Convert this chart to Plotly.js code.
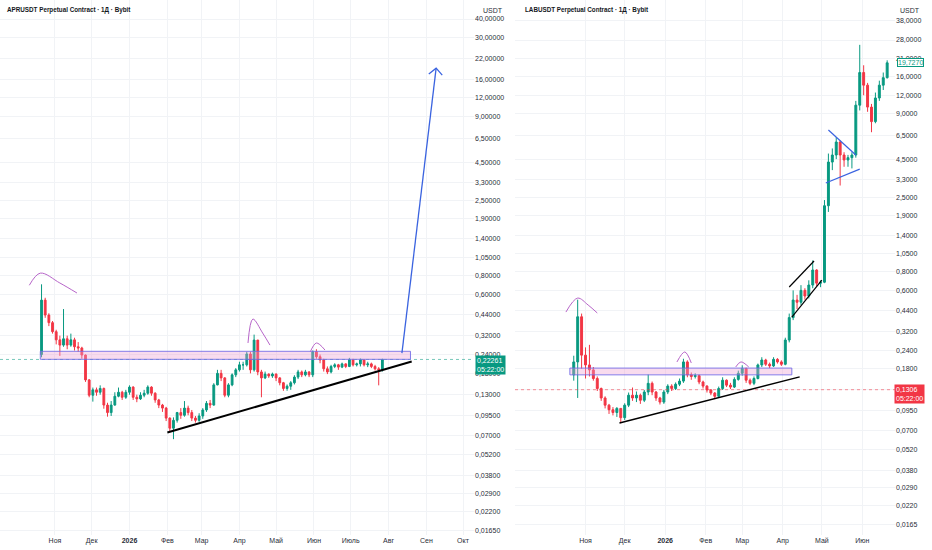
<!DOCTYPE html>
<html><head><meta charset="utf-8">
<script src="https://cdn.plot.ly/plotly-3.0.1.min.js"></script>
<style>html,body{margin:0;padding:0;background:#fff;}#chart{width:932px;height:550px;}</style>
</head><body><div id="chart"></div>
<script>
// ---------- APRUSDT (left panel), 3-day candles ----------
const aprStart = '2025-10-21';
const aprStepDays = 3;
const aprOpen0 = 0.24;
const aprClose = [0.55,0.438,0.39,0.34,0.30,0.277,0.305,0.277,0.30,0.27,0.265,0.238,0.163,0.129,0.14,0.135,0.143,0.111,0.099,0.111,
0.127,0.135,0.125,0.135,0.146,0.125,0.122,0.129,0.133,0.146,0.133,0.12,0.111,0.106,0.091,0.078,0.088,0.099,0.095,0.106,
0.099,0.091,0.088,0.094,0.103,0.114,0.111,0.151,0.18,0.168,0.129,0.151,0.176,0.19,0.205,0.205,0.242,0.19,0.299,0.184,
0.168,0.178,0.173,0.178,0.168,0.156,0.143,0.148,0.156,0.17,0.184,0.176,0.184,0.176,0.25,0.232,0.221,0.193,0.184,0.2,
0.205,0.198,0.208,0.2,0.221,0.205,0.208,0.221,0.205,0.208,0.2,0.193,0.19,0.22261];
const aprHigh = [0.70,0.57,0.45,0.40,0.35,0.32,0.48,0.32,0.33,0.31,0.29,0.27,0.24,0.165,0.145,0.145,0.15,0.145,0.115,0.118,
0.135,0.145,0.138,0.14,0.15,0.148,0.13,0.135,0.14,0.15,0.148,0.135,0.122,0.113,0.108,0.092,0.092,0.10,0.106,0.118,
0.11,0.103,0.094,0.098,0.106,0.118,0.12,0.155,0.19,0.19,0.17,0.155,0.18,0.195,0.215,0.215,0.25,0.25,0.325,0.30,
0.19,0.185,0.18,0.182,0.18,0.17,0.158,0.152,0.16,0.175,0.19,0.188,0.19,0.186,0.255,0.26,0.24,0.225,0.2,0.205,
0.21,0.208,0.212,0.21,0.228,0.225,0.212,0.226,0.222,0.215,0.212,0.205,0.198,0.225];
const aprLow = [0.23,0.42,0.37,0.33,0.28,0.235,0.27,0.26,0.27,0.255,0.25,0.225,0.158,0.125,0.117,0.128,0.13,0.105,0.093,0.094,
0.11,0.125,0.12,0.122,0.13,0.12,0.116,0.12,0.125,0.13,0.128,0.115,0.106,0.10,0.087,0.074,0.066,0.085,0.09,0.093,
0.095,0.087,0.085,0.086,0.09,0.10,0.106,0.11,0.15,0.16,0.125,0.125,0.148,0.17,0.185,0.19,0.2,0.18,0.185,0.175,
0.125,0.165,0.168,0.168,0.16,0.15,0.138,0.138,0.14,0.152,0.165,0.17,0.172,0.17,0.17,0.225,0.21,0.185,0.178,0.18,
0.195,0.19,0.195,0.195,0.198,0.2,0.2,0.2,0.2,0.198,0.195,0.188,0.15,0.185];
const aprLast = 0.22261;
const aprTickVals = [40,30,22,16,12,9,6.5,4.5,3.3,2.5,1.9,1.4,1.05,0.8,0.6,0.44,0.32,0.24,0.18,0.13,0.095,0.07,0.052,0.038,0.029,0.022,0.0165];
const aprTickText = ['40,00000','30,00000','22,00000','16,00000','12,00000','9,00000','6,50000','4,50000','3,30000','2,50000','1,90000','1,40000','1,05000','0,80000','0,60000','0,44000','0,32000','0,24000','0,18000','0,13000','0,09500','0,07000','0,05200','0,03800','0,02900','0,02200','0,01650'];
const aprMonthVals = ['2025-11-01','2025-12-01','2026-01-01','2026-02-01','2026-03-01','2026-04-01','2026-05-01','2026-06-01','2026-07-01','2026-08-01','2026-09-01','2026-10-01'];
const aprMonthText = ['Ноя','Дек','<b>2026</b>','Фев','Мар','Апр','Май','Июн','Июль','Авг','Сен','Окт'];
// drawings (left)
const aprZoneX = ['2025-10-20','2026-08-19'];
const aprZoneY = [0.223, 0.252];
const aprTrendX = ['2026-02-01','2026-08-20'];
const aprTrendY = [0.073, 0.216];
const aprArrowX = ['2026-08-12','2026-09-09'];
const aprArrowY = [0.245, 18.9];
const aprHeadX = ['2026-09-03','2026-09-09','2026-09-14'];
const aprHeadY = [17.3, 18.9, 17.0];
const aprArc1X = ['2025-10-11','2025-10-20','2025-11-05','2025-11-19'];
const aprArc1Y = [0.69, 0.83, 0.714, 0.613];
const aprArc2X = ['2026-04-08','2026-04-12','2026-04-20','2026-04-26'];
const aprArc2Y = [0.286, 0.412, 0.333, 0.277];
const aprArc3X = ['2026-05-29','2026-06-03','2026-06-10'];
const aprArc3Y = [0.25, 0.286, 0.257];

// ---------- LABUSDT (right panel), 3-day candles ----------
const labStart = '2025-10-23';
const labStepDays = 3;
const labOpen0 = 0.164;
const labClose = [0.2,0.40,0.222,0.191,0.177,0.155,0.133,0.115,0.103,0.096,0.092,0.098,0.085,0.103,0.12,0.115,0.12,0.111,0.126,0.144,
0.126,0.115,0.108,0.126,0.138,0.133,0.142,0.149,0.2,0.164,0.16,0.162,0.147,0.138,0.13,0.124,0.118,0.133,0.151,0.14,
0.136,0.153,0.168,0.181,0.151,0.144,0.155,0.191,0.206,0.193,0.188,0.208,0.2,0.193,0.28,0.395,0.517,0.5,0.6,0.55,
0.651,0.82,0.67,0.68,2.2,4.3,4.79,5.85,4.79,4.44,4.6,4.79,10.3,17,14,10,8.0,11.5,14,15.7,19.727];
const labHigh = [0.22,0.52,0.42,0.25,0.26,0.185,0.16,0.135,0.118,0.105,0.1,0.1,0.098,0.106,0.125,0.135,0.127,0.123,0.13,0.165,
0.148,0.128,0.117,0.13,0.142,0.142,0.146,0.155,0.21,0.205,0.17,0.168,0.165,0.15,0.14,0.132,0.126,0.137,0.158,0.153,
0.145,0.158,0.175,0.19,0.183,0.155,0.16,0.195,0.215,0.21,0.198,0.215,0.212,0.205,0.29,0.42,0.6,0.56,0.65,0.62,
0.7,0.95,0.83,0.7,2.4,4.9,5.3,6.3,6.0,5.0,4.8,5.0,11,26,19,14.5,10.5,12.5,15,17,20.5];
const labLow = [0.15,0.115,0.18,0.155,0.16,0.15,0.128,0.11,0.098,0.09,0.088,0.086,0.078,0.082,0.1,0.11,0.108,0.105,0.108,0.12,
0.12,0.11,0.104,0.105,0.122,0.128,0.13,0.138,0.145,0.158,0.152,0.155,0.142,0.133,0.125,0.12,0.113,0.116,0.13,0.136,
0.132,0.134,0.15,0.162,0.145,0.14,0.14,0.153,0.185,0.188,0.182,0.185,0.195,0.188,0.19,0.27,0.38,0.45,0.48,0.52,
0.53,0.62,0.64,0.63,0.67,2.0,3.8,4.5,3.0,4.0,4.0,3.9,4.6,9.5,12,9.3,6.8,7.8,11,13,15.5];
const labLast = 19.727;
const labRefPrice = 0.1306;
const labTickVals = [38,28,21,16,12,9,6.5,4.5,3.3,2.5,1.9,1.4,1.05,0.8,0.6,0.44,0.32,0.24,0.18,0.13,0.095,0.07,0.052,0.038,0.029,0.022,0.0165];
const labTickText = ['38,0000','28,0000','21,0000','16,0000','12,0000','9,0000','6,5000','4,5000','3,3000','2,5000','1,9000','1,4000','1,0500','0,8000','0,6000','0,4400','0,3200','0,2400','0,1800','0,1300','0,0950','0,0700','0,0520','0,0380','0,0290','0,0220','0,0165'];
const labMonthVals = ['2025-11-01','2025-12-01','2026-01-01','2026-02-01','2026-03-01','2026-04-01','2026-05-01','2026-06-01'];
const labMonthText = ['Ноя','Дек','<b>2026</b>','Фев','Мар','Апр','Май','Июн'];
// drawings (right)
const labZoneX = ['2025-10-20','2026-04-08'];
const labZoneY = [0.164, 0.182];
const labTrendX = ['2025-11-27','2026-04-14'];
const labTrendY = [0.0783, 0.159];
const labArc1X = ['2025-10-17','2025-10-26','2025-11-03','2025-11-10'];
const labArc1Y = [0.43, 0.533, 0.479, 0.424];
const labArc2X = ['2026-01-10','2026-01-16','2026-01-21'];
const labArc2Y = [0.1998, 0.233, 0.1968];
const labArc3X = ['2026-02-24','2026-02-28','2026-03-06'];
const labArc3Y = [0.185, 0.2, 0.185];
const labChanUpX = ['2026-04-06','2026-04-25'];
const labChanUpY = [0.632, 0.942];
const labChanLoX = ['2026-04-08','2026-05-01'];
const labChanLoY = [0.398, 0.703];
const labTriUpX = ['2026-05-06','2026-05-27'];
const labTriUpY = [7.03, 4.79];
const labTriLoX = ['2026-05-04','2026-05-30'];
const labTriLoY = [3.12, 3.86];

// ---------- helpers ----------
function dateSeq(start, n, step){
  const d0 = Date.parse(start + 'T00:00:00Z');
  return Array.from({length:n}, (_, i) => new Date(d0 + i*step*86400000).toISOString().slice(0,10));
}
function opensFrom(first, closes){ return [first].concat(closes.slice(0, -1)); }

const UP = '#089981', DOWN = '#f23645';
const PURPLE = '#b765c9', BLUE = '#3a63e0';
const aprRange = ['2025-09-17','2026-10-10'];
const labRange = ['2025-09-08','2026-06-26'];

function candle(xa, ya, start, step, o0, c, h, l){
  return {type:'candlestick', xaxis:xa, yaxis:ya, x: dateSeq(start, c.length, step),
    open: opensFrom(o0, c), high: h, low: l, close: c,
    increasing:{line:{color:UP, width:1}, fillcolor:UP},
    decreasing:{line:{color:DOWN, width:1}, fillcolor:DOWN},
    whiskerwidth:0, hoverinfo:'skip'};
}
function line(xa, ya, x, y, color, width, extra){
  return Object.assign({type:'scatter', mode:'lines', xaxis:xa, yaxis:ya, x:x, y:y,
    line:{color:color, width:width}, hoverinfo:'skip'}, extra || {});
}
function zone(xa, ya, X, Y){
  return {type:'scatter', mode:'lines', xaxis:xa, yaxis:ya,
    x:[X[0],X[1],X[1],X[0],X[0]], y:[Y[0],Y[0],Y[1],Y[1],Y[0]],
    fill:'toself', fillcolor:'rgba(236,160,210,0.38)', line:{color:'rgba(110,105,230,0.85)', width:1}, hoverinfo:'skip'};
}

const traces = [
  line('x','y', aprRange, [aprLast, aprLast], 'rgba(8,153,129,0.55)', 1, {line:{color:'rgba(8,153,129,0.55)', width:1, dash:'dot'}}),
  zone('x','y', aprZoneX, aprZoneY),
  candle('x','y', aprStart, aprStepDays, aprOpen0, aprClose, aprHigh, aprLow),
  line('x','y', aprTrendX, aprTrendY, '#000', 2),
  line('x','y', aprArrowX, aprArrowY, BLUE, 1.3),
  line('x','y', aprHeadX, aprHeadY, BLUE, 1.3),
  line('x','y', aprArc1X, aprArc1Y, PURPLE, 1, {line:{color:PURPLE, width:1, shape:'spline'}}),
  line('x','y', aprArc2X, aprArc2Y, PURPLE, 1, {line:{color:PURPLE, width:1, shape:'spline'}}),
  line('x','y', aprArc3X, aprArc3Y, PURPLE, 1, {line:{color:PURPLE, width:1, shape:'spline'}}),

  line('x2','y2', labRange, [labRefPrice, labRefPrice], 'rgba(242,54,69,0.55)', 1, {line:{color:'rgba(242,54,69,0.55)', width:1, dash:'dot'}}),
  zone('x2','y2', labZoneX, labZoneY),
  candle('x2','y2', labStart, labStepDays, labOpen0, labClose, labHigh, labLow),
  line('x2','y2', labTrendX, labTrendY, '#000', 1.5),
  line('x2','y2', labChanUpX, labChanUpY, '#000', 1.2),
  line('x2','y2', labChanLoX, labChanLoY, '#000', 1.2),
  line('x2','y2', labTriUpX, labTriUpY, BLUE, 1.2),
  line('x2','y2', labTriLoX, labTriLoY, BLUE, 1.2),
  line('x2','y2', labArc1X, labArc1Y, PURPLE, 1, {line:{color:PURPLE, width:1, shape:'spline'}}),
  line('x2','y2', labArc2X, labArc2Y, PURPLE, 1, {line:{color:PURPLE, width:1, shape:'spline'}}),
  line('x2','y2', labArc3X, labArc3Y, PURPLE, 1, {line:{color:PURPLE, width:1, shape:'spline'}})
];

const W = 932, H = 550;
const GRID = '#f1f3f6';
const TXT = '#2a2e39';
const FONT = 'Liberation Sans, Arial, sans-serif';
const ydom = [15/H, 1];

function xax(domain, range, vals, text){
  return {domain:domain, type:'date', range:range, tickvals:vals, ticktext:text,
    showgrid:true, gridcolor:GRID, zeroline:false, showline:false, ticks:'',
    rangeslider:{visible:false}, fixedrange:true, automargin:false,
    tickfont:{size:7, color:TXT, family:FONT}};
}
function yax(anchor, range, vals, text){
  return {domain:ydom, anchor:anchor, type:'log', range:range, side:'right',
    tickvals:vals, ticktext:text, showgrid:true, gridcolor:GRID, zeroline:false,
    showline:false, ticks:'', fixedrange:true, automargin:false,
    tickfont:{size:7, color:TXT, family:FONT}};
}

const layout = {
  width:W, height:H, margin:{l:0, r:0, t:0, b:0},
  paper_bgcolor:'#ffffff', plot_bgcolor:'#ffffff', showlegend:false, hovermode:false,
  font:{family:FONT, size:7, color:TXT},
  xaxis: xax([0, 474/W], aprRange, aprMonthVals, aprMonthText),
  yaxis: Object.assign(yax('x', [-1.8151, 1.7279], aprTickVals, aprTickText)),
  xaxis2: xax([515/W, 895/W], labRange, labMonthVals, labMonthText),
  yaxis2: Object.assign(yax('x2', [-1.8528, 1.7139], labTickVals, labTickText)),
  annotations: [
    {xref:'paper', yref:'paper', x:5/W, y:1-10/H, xanchor:'left', yanchor:'middle', showarrow:false,
     text:'<b>APRUSDT Perpetual Contract · 1Д · Bybit</b>', font:{size:6.3, color:'#131722', family:FONT}},
    {xref:'paper', yref:'paper', x:523/W, y:1-10/H, xanchor:'left', yanchor:'middle', showarrow:false,
     text:'<b>LABUSDT Perpetual Contract · 1Д · Bybit</b>', font:{size:6.3, color:'#131722', family:FONT}},
    {xref:'paper', yref:'paper', x:481/W, y:1-10/H, xanchor:'left', yanchor:'middle', showarrow:false,
     text:'USDT', bgcolor:'#ffffff', font:{size:7, color:TXT, family:FONT}},
    {xref:'paper', yref:'paper', x:898/W, y:1-10/H, xanchor:'left', yanchor:'middle', showarrow:false,
     text:'USDT', bgcolor:'#ffffff', font:{size:7, color:TXT, family:FONT}},
    {xref:'paper', yref:'y', x:475/W, y:Math.log10(aprLast), xanchor:'left', yanchor:'top', yshift:4, showarrow:false,
     text:'0,22261<br>05:22:00', bgcolor:UP, borderpad:1, align:'left', font:{size:7, color:'#ffffff', family:FONT}},
    {xref:'paper', yref:'y2', x:894/W, y:Math.log10(labRefPrice), xanchor:'left', yanchor:'top', yshift:6, showarrow:false,
     text:'0,1306<br>05:22:00', bgcolor:DOWN, borderpad:1, align:'left', font:{size:7, color:'#ffffff', family:FONT}},
    {xref:'paper', yref:'y2', x:897/W, y:Math.log10(labLast), xanchor:'left', yanchor:'middle', showarrow:false,
     text:'19,7270', bgcolor:'#ffffff', bordercolor:UP, borderwidth:1, borderpad:0, font:{size:7, color:UP, family:FONT}}
  ]
};

Plotly.newPlot('chart', traces, layout, {staticPlot:true, displayModeBar:false, responsive:false});
</script>
</body></html>
